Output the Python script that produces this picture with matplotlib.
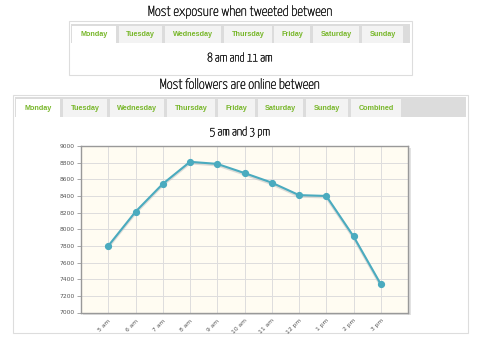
import matplotlib
matplotlib.use("Agg")
import matplotlib.pyplot as plt
from matplotlib.patches import Rectangle
from matplotlib import font_manager
from matplotlib import patheffects

hours = ["5 am", "6 am", "7 am", "8 am", "9 am", "10 am", "11 am", "12 pm", "1 pm", "2 pm", "3 pm"]
followers = [7800, 8210, 8545, 8810, 8785, 8675, 8560, 8410, 8400, 7915, 7340]
y_ticks = [7000, 7200, 7400, 7600, 7800, 8000, 8200, 8400, 8600, 8800, 9000]

days_top = ["Monday", "Tuesday", "Wednesday", "Thursday", "Friday", "Saturday", "Sunday"]
days_bottom = ["Monday", "Tuesday", "Wednesday", "Thursday", "Friday", "Saturday", "Sunday", "Combined"]

W, H = 480, 339
fig = plt.figure(figsize=(W / 100, H / 100), dpi=100)
fig.patch.set_facecolor("white")

names = {f.name for f in font_manager.fontManager.ttflist}
headline_font = "DejaVu Sans"
for cand in ["Yanone Kaffeesatz", "Liberation Sans Narrow", "Roboto Condensed",
             "Open Sans Condensed", "PT Sans Narrow", "Archivo Narrow", "Pathway Gothic One"]:
    if cand in names:
        headline_font = cand
        break
tab_font = "Liberation Sans" if "Liberation Sans" in names else "DejaVu Sans"

GREEN = "#78b72a"
INK = "#222222"


def px_rect(x0, y0, x1, y1, **kw):
    fig.patches.append(Rectangle((x0 / W, 1 - y1 / H), (x1 - x0) / W, (y1 - y0) / H,
                                 transform=fig.transFigure, figure=fig, **kw))


def px_text(x, y, s, **kw):
    fig.text(x / W, 1 - y / H, s, ha="center", va="center", **kw)


def tab_panel(box, bar, tabs, labels):
    bx0, by0, bx1, by1 = box
    px_rect(bx0, by0, bx1, by1, facecolor="white", edgecolor="#dddddd", lw=0.8)
    px_rect(bar[0], bar[1], bar[2], bar[3], facecolor="#dcdcdc", edgecolor="none")
    for i, ((x0, x1), lab) in enumerate(zip(tabs, labels)):
        fc = "white" if i == 0 else "#f3f3f3"
        y_bottom = bar[3] + (1 if i == 0 else 0)
        px_rect(x0, bar[1] + 2, x1, y_bottom, facecolor=fc, edgecolor="none")
        px_text((x0 + x1) / 2, (bar[1] + 2 + bar[3]) / 2 + 0.5, lab,
                color=GREEN, fontsize=5.2, fontweight="bold", family=tab_font)


# slightly heavier strokes for the headline face
head_kw = dict(family=headline_font, color=INK,
               path_effects=[patheffects.withStroke(linewidth=0.3, foreground=INK)])

# Upper panel: best exposure
px_text(240, 12, "Most exposure when tweeted between", fontsize=10.2, **head_kw)
tab_panel((69, 21, 412, 75), (71, 24, 410, 43),
          [(72, 116), (119, 162), (165, 221), (224, 272), (274, 310), (313, 359), (362, 403)],
          days_top)
px_text(240, 58, "8 am and 11 am", fontsize=8.8, **head_kw)

# Lower panel: followers online
px_text(240, 85, "Most followers are online between", fontsize=10.2, **head_kw)
tab_panel((13, 95, 468, 333), (15, 97, 466, 117),
          [(16, 60), (63, 107), (110, 164), (167, 215), (218, 255), (258, 303), (306, 348), (351, 401)],
          days_bottom)
px_text(240, 132, "5 am and 3 pm", fontsize=8.8, **head_kw)

# Line chart
ax_l, ax_t, ax_r, ax_b = 81, 146, 408, 312.5
# drop shadow behind the plot frame
px_rect(ax_l + 1.5, ax_t + 1.5, ax_r + 2.5, ax_b + 2.5, facecolor="#e2e2e2", edgecolor="none")
ax = fig.add_axes([ax_l / W, 1 - ax_b / H, (ax_r - ax_l) / W, (ax_b - ax_t) / H])
ax.set_zorder(5)
ax.set_facecolor("#fffcf2")
x = list(range(1, len(hours) + 1))
ax.plot(x, [v - 14 for v in followers], color="#bbbbbb", lw=2.0, alpha=0.5, zorder=2)
ax.plot(x, followers, color="#4aabbf", lw=1.5, marker="o", ms=4.2, zorder=3)
ax.set_xlim(0, len(hours) + 1)
ax.set_ylim(7000, 9000)
ax.set_xticks(x)
ax.set_xticklabels(hours, rotation=45, ha="right", rotation_mode="anchor")
ax.set_yticks(y_ticks)
ax.set_yticklabels([str(v) for v in y_ticks])
ax.tick_params(axis="both", labelsize=4.3, labelcolor="#555555", color="#999999",
               length=3, width=0.6, pad=1.5)
ax.tick_params(axis="x", length=0, pad=4)
ax.grid(True, color="#dddddd", lw=0.7)
ax.set_axisbelow(True)
for s in ax.spines.values():
    s.set_color("#999999")
    s.set_linewidth(1.0)

fig.savefig("out.png", dpi=100)
